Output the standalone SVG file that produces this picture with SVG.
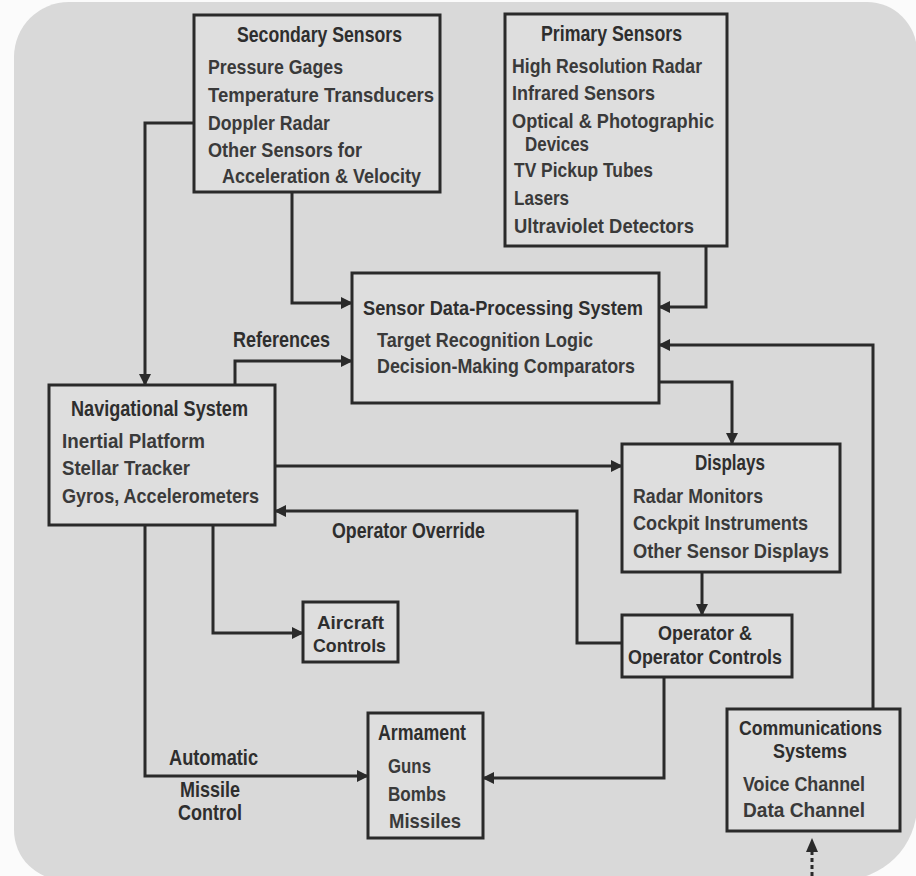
<svg xmlns="http://www.w3.org/2000/svg" width="916" height="876" viewBox="0 0 916 876">
<style>
.box{fill:#dedede;stroke:#2a2a2a;stroke-width:3}
.t{font-family:"Liberation Sans",Arial,sans-serif;font-weight:bold;font-size:22px;fill:#2e2e2e}
.b{font-family:"Liberation Sans",Arial,sans-serif;font-weight:bold;font-size:21px;fill:#3a3a3a}
.c{fill:none;stroke:#2a2a2a;stroke-width:3;marker-end:url(#ah)}
</style>
<defs>
<marker id="ah" markerUnits="userSpaceOnUse" markerWidth="12" markerHeight="12" refX="11" refY="6" orient="auto">
<path d="M0,0 L12,6 L0,12 z" fill="#2a2a2a"/>
</marker>
</defs>
<rect width="916" height="876" fill="#fbfbfb"/>
<path d="M14,57 A55,55 0 0 1 69,2 L867,2 A50,50 0 0 1 917,52 L917,805 A75,75 0 0 1 842,880 L64,880 A50,50 0 0 1 14,830 Z" fill="#d9d9d9"/>

<g id="connectors">
<path class="c" d="M194,123 H145 V385"/>
<path class="c" d="M292,192 V303 H352"/>
<path class="c" d="M706,246 V307 H659"/>
<path class="c" d="M235,385 V361 H352"/>
<path class="c" d="M873,709 V345 H659"/>
<path class="c" d="M659,382 H732 V444"/>
<path class="c" d="M275,466 H622"/>
<path class="c" d="M622,643 H577 V511 H275"/>
<path class="c" d="M213,525 V633 H303"/>
<path class="c" d="M145,525 V776 H368"/>
<path class="c" d="M702,572 V615"/>
<path class="c" d="M664,677 V778 H483"/>
<path d="M812,876 V850" fill="none" stroke="#2a2a2a" stroke-width="3" stroke-dasharray="4 3"/>
<path d="M812,838 L806,852 L818,852 z" fill="#2a2a2a"/>
<text class="t" x="233" y="347" textLength="97" lengthAdjust="spacingAndGlyphs">References</text>
<text class="t" x="332" y="538" textLength="153" lengthAdjust="spacingAndGlyphs">Operator Override</text>
<text class="t" x="169" y="765" textLength="89" lengthAdjust="spacingAndGlyphs">Automatic</text>
<text class="t" x="180" y="797" textLength="60" lengthAdjust="spacingAndGlyphs">Missile</text>
<text class="t" x="178" y="820" textLength="64" lengthAdjust="spacingAndGlyphs">Control</text>
</g>

<g id="secondary-sensors">
<rect class="box" x="194" y="15" width="246" height="177"/>
<text class="t" x="237" y="42" textLength="165" lengthAdjust="spacingAndGlyphs">Secondary Sensors</text>
<text class="b" x="208" y="74" textLength="135" lengthAdjust="spacingAndGlyphs">Pressure Gages</text>
<text class="b" x="208" y="102" textLength="226" lengthAdjust="spacingAndGlyphs">Temperature Transducers</text>
<text class="b" x="208" y="130" textLength="122" lengthAdjust="spacingAndGlyphs">Doppler Radar</text>
<text class="b" x="208" y="157" textLength="154" lengthAdjust="spacingAndGlyphs">Other Sensors for</text>
<text class="b" x="222" y="183" textLength="199" lengthAdjust="spacingAndGlyphs">Acceleration &amp; Velocity</text>
</g>

<g id="primary-sensors">
<rect class="box" x="505" y="14" width="222" height="232"/>
<text class="t" x="541" y="41" textLength="141" lengthAdjust="spacingAndGlyphs">Primary Sensors</text>
<text class="b" x="512" y="73" textLength="190" lengthAdjust="spacingAndGlyphs">High Resolution Radar</text>
<text class="b" x="512" y="100" textLength="143" lengthAdjust="spacingAndGlyphs">Infrared Sensors</text>
<text class="b" x="512" y="128" textLength="202" lengthAdjust="spacingAndGlyphs">Optical &amp; Photographic</text>
<text class="b" x="525" y="151" textLength="64" lengthAdjust="spacingAndGlyphs">Devices</text>
<text class="b" x="514" y="177" textLength="139" lengthAdjust="spacingAndGlyphs">TV Pickup Tubes</text>
<text class="b" x="514" y="205" textLength="55" lengthAdjust="spacingAndGlyphs">Lasers</text>
<text class="b" x="514" y="233" textLength="180" lengthAdjust="spacingAndGlyphs">Ultraviolet Detectors</text>
</g>

<g id="sensor-data-processing">
<rect class="box" x="352" y="273" width="307" height="130"/>
<text class="t" x="363" y="315" style="font-size:20px" textLength="280" lengthAdjust="spacingAndGlyphs">Sensor Data-Processing System</text>
<text class="b" x="377" y="347" textLength="216" lengthAdjust="spacingAndGlyphs">Target Recognition Logic</text>
<text class="b" x="377" y="373" textLength="258" lengthAdjust="spacingAndGlyphs">Decision-Making Comparators</text>
</g>

<g id="navigational-system">
<rect class="box" x="49" y="385" width="226" height="140"/>
<text class="t" x="71" y="416" textLength="177" lengthAdjust="spacingAndGlyphs">Navigational System</text>
<text class="b" x="62" y="448" textLength="143" lengthAdjust="spacingAndGlyphs">Inertial Platform</text>
<text class="b" x="62" y="475" textLength="128" lengthAdjust="spacingAndGlyphs">Stellar Tracker</text>
<text class="b" x="62" y="503" textLength="197" lengthAdjust="spacingAndGlyphs">Gyros, Accelerometers</text>
</g>

<g id="displays">
<rect class="box" x="622" y="444" width="218" height="128"/>
<text class="t" x="695" y="470" textLength="70" lengthAdjust="spacingAndGlyphs">Displays</text>
<text class="b" x="633" y="503" textLength="130" lengthAdjust="spacingAndGlyphs">Radar Monitors</text>
<text class="b" x="633" y="530" textLength="175" lengthAdjust="spacingAndGlyphs">Cockpit Instruments</text>
<text class="b" x="633" y="558" textLength="196" lengthAdjust="spacingAndGlyphs">Other Sensor Displays</text>
</g>

<g id="aircraft-controls">
<rect class="box" x="303" y="602" width="95" height="60"/>
<text class="t" x="317" y="629" style="font-size:19px" textLength="67" lengthAdjust="spacingAndGlyphs">Aircraft</text>
<text class="t" x="313" y="652" style="font-size:19px" textLength="73" lengthAdjust="spacingAndGlyphs">Controls</text>
</g>

<g id="operator-controls">
<rect class="box" x="622" y="615" width="170" height="62"/>
<text class="t" x="658" y="640" style="font-size:20px" textLength="94" lengthAdjust="spacingAndGlyphs">Operator &amp;</text>
<text class="t" x="628" y="664" style="font-size:20px" textLength="154" lengthAdjust="spacingAndGlyphs">Operator Controls</text>
</g>

<g id="armament">
<rect class="box" x="368" y="713" width="115" height="125"/>
<text class="t" x="378" y="740" textLength="88" lengthAdjust="spacingAndGlyphs">Armament</text>
<text class="b" x="388" y="773" textLength="43" lengthAdjust="spacingAndGlyphs">Guns</text>
<text class="b" x="388" y="801" textLength="58" lengthAdjust="spacingAndGlyphs">Bombs</text>
<text class="b" x="389" y="828" textLength="72" lengthAdjust="spacingAndGlyphs">Missiles</text>
</g>

<g id="communications-systems">
<rect class="box" x="727" y="709" width="173" height="122"/>
<text class="t" x="739" y="735" style="font-size:20px" textLength="143" lengthAdjust="spacingAndGlyphs">Communications</text>
<text class="t" x="773" y="758" style="font-size:20px" textLength="74" lengthAdjust="spacingAndGlyphs">Systems</text>
<text class="b" x="743" y="791" textLength="122" lengthAdjust="spacingAndGlyphs">Voice Channel</text>
<text class="b" x="743" y="817" textLength="122" lengthAdjust="spacingAndGlyphs">Data Channel</text>
</g>
</svg>
